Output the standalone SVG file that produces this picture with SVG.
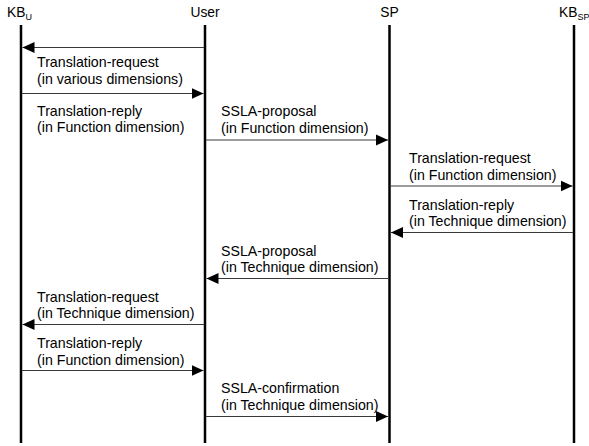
<svg xmlns="http://www.w3.org/2000/svg" width="589" height="446" viewBox="0 0 589 446">
<style>
text{font-family:"Liberation Sans",Arial,sans-serif;font-size:14.2px;fill:#000}
.hd{font-size:13.8px}
.sub{font-size:9px}
.life{stroke:#000;stroke-width:2.5;fill:none}
.msg{stroke:#3a3a3a;stroke-width:1.1;fill:none;marker-end:url(#ah)}
</style>
<defs>
<marker id="ah" markerUnits="userSpaceOnUse" markerWidth="13" markerHeight="12" refX="12" refY="6" orient="auto">
<path d="M0,0.5 L12,6 L0,11.5 Z" fill="#000"/>
</marker>
</defs>
<g id="KBU">
<text class="hd" x="7" y="16.5">KB<tspan class="sub" dy="3">U</tspan></text>
<line class="life" x1="21" y1="25" x2="21" y2="443"/>
</g>
<g id="User">
<text class="hd" x="205" y="16.5" text-anchor="middle">User</text>
<line class="life" x1="205" y1="25" x2="205" y2="443"/>
</g>
<g id="SP">
<text class="hd" x="389.5" y="16.5" text-anchor="middle">SP</text>
<line class="life" x1="389.5" y1="25" x2="389.5" y2="443"/>
</g>
<g id="KBSP">
<text class="hd" x="559" y="16.5">KB<tspan class="sub" dy="3">SP</tspan></text>
<line class="life" x1="574" y1="25" x2="574" y2="443"/>
</g>
<g id="connectors">
<line class="msg" x1="204" y1="47.5" x2="22.5" y2="47.5"/>
<line class="msg" x1="22" y1="93.5" x2="203.5" y2="93.5"/>
<line class="msg" x1="206" y1="140" x2="388" y2="140"/>
<line class="msg" x1="390.5" y1="186" x2="572.5" y2="186"/>
<line class="msg" x1="573" y1="232.5" x2="391" y2="232.5"/>
<line class="msg" x1="388.5" y1="278.5" x2="206.5" y2="278.5"/>
<line class="msg" x1="204" y1="324.5" x2="22.5" y2="324.5"/>
<line class="msg" x1="22" y1="370.5" x2="203.5" y2="370.5"/>
<line class="msg" x1="206" y1="416.5" x2="388" y2="416.5"/>
</g>
<g id="labels">
<text x="37" y="67">Translation-request</text>
<text x="37" y="83.5">(in various dimensions)</text>
<text x="37" y="115.5">Translation-reply</text>
<text x="37" y="132">(in Function dimension)</text>
<text x="221" y="116">SSLA-proposal</text>
<text x="221" y="132.5">(in Function dimension)</text>
<text x="409" y="163">Translation-request</text>
<text x="409" y="179.5">(in Function dimension)</text>
<text x="409" y="209.5">Translation-reply</text>
<text x="409" y="226">(in Technique dimension)</text>
<text x="221" y="255.5">SSLA-proposal</text>
<text x="221" y="272">(in Technique dimension)</text>
<text x="37" y="301.5">Translation-request</text>
<text x="37" y="318">(in Technique dimension)</text>
<text x="37" y="348">Translation-reply</text>
<text x="37" y="364.5">(in Function dimension)</text>
<text x="221" y="393">SSLA-confirmation</text>
<text x="221" y="409.5">(in Technique dimension)</text>
</g>
</svg>
